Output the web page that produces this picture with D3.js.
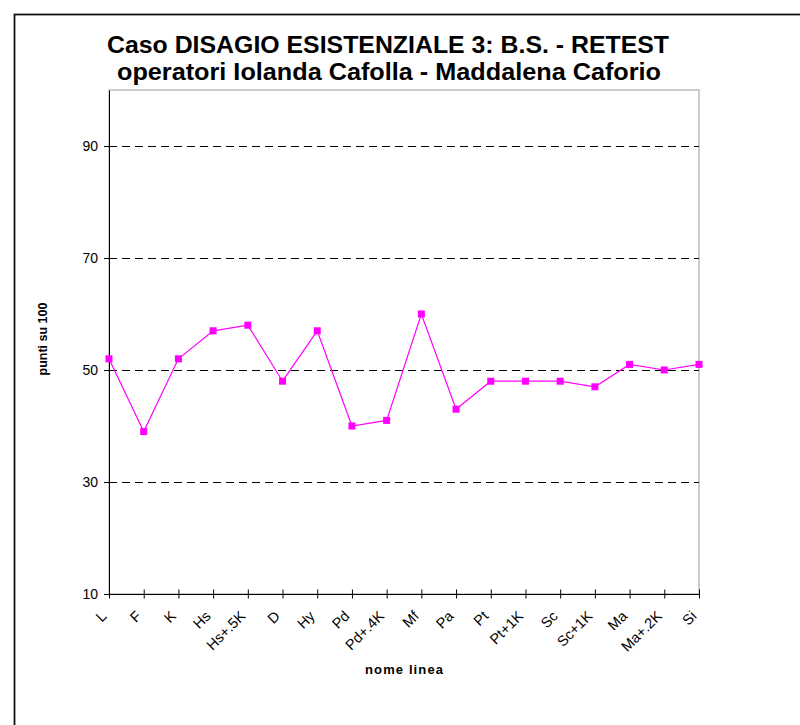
<!DOCTYPE html>
<html>
  <head>
    <meta charset="UTF-8" />
    <title>Caso DISAGIO ESISTENZIALE 3</title>
    <script src="https://d3js.org/d3.v7.min.js"></script>
    <style>
      body { margin: 0; background: #fff; }
      svg { display: block; font-family: "Liberation Sans", Arial, sans-serif; }
    </style>
  </head>
  <body>
    <svg id="chart" width="800" height="725"></svg>
    <script>
      const categories = ["L", "F", "K", "Hs", "Hs+.5K", "D", "Hy", "Pd", "Pd+.4K",
        "Mf", "Pa", "Pt", "Pt+1K", "Sc", "Sc+1K", "Ma", "Ma+.2K", "Si"];
      const values = [52, 39, 52, 57, 58, 48, 57, 40, 41, 60, 43, 48, 48, 48, 47, 51, 50, 51];
      const yTicks = [10, 30, 50, 70, 90];

      const svg = d3.select("#chart");
      const m = { left: 109, right: 699, top: 90, bottom: 594 };
      const font = "Liberation Sans, Arial, sans-serif";

      // outer frame (runs off the right and bottom edges)
      svg.append("rect")
        .attr("x", 14.5).attr("y", 14.5)
        .attr("width", 800).attr("height", 800)
        .attr("fill", "none").attr("stroke", "#111").attr("stroke-width", 1.8);

      const x = d3.scalePoint().domain(categories).range([m.left, m.right]);
      const y = d3.scaleLinear().domain([10, 100]).range([m.bottom, m.top]);

      // plot area frame
      svg.append("rect")
        .attr("x", m.left).attr("y", m.top)
        .attr("width", m.right - m.left).attr("height", m.bottom - m.top)
        .attr("fill", "none").attr("stroke", "#999").attr("stroke-width", 1);

      // gridlines
      svg.append("g")
        .attr("shape-rendering", "crispEdges")
        .selectAll("line")
        .data(yTicks.filter((d) => d > 10))
        .join("line")
        .attr("x1", m.left).attr("x2", m.right)
        .attr("y1", (d) => y(d) + 0.5).attr("y2", (d) => y(d) + 0.5)
        .attr("stroke", "#000").attr("stroke-dasharray", "8,5");

      const yAxis = svg.append("g")
        .attr("transform", `translate(${m.left},0)`)
        .call(d3.axisLeft(y).tickValues(yTicks).tickSize(5).tickSizeOuter(0).tickPadding(6));
      yAxis.select(".domain").attr("stroke", "#000");
      yAxis.selectAll(".tick line").attr("x1", 4).attr("x2", -5).attr("stroke", "#000");
      yAxis.selectAll("text").attr("font-size", 14).attr("fill", "#000")
        .attr("font-family", font);

      const xAxis = svg.append("g")
        .attr("transform", `translate(0,${m.bottom})`)
        .call(d3.axisBottom(x).tickSize(5).tickSizeOuter(0));
      xAxis.select(".domain").attr("stroke", "#000");
      xAxis.selectAll(".tick line").attr("y1", -4.5).attr("y2", 4.5).attr("stroke", "#000");
      xAxis.selectAll("text")
        .attr("font-size", 14.5).attr("fill", "#000")
        .attr("font-family", font)
        .attr("text-anchor", "end")
        .attr("dy", null)
        .attr("transform", "translate(-2,23) rotate(-45)")
        .attr("y", 0).attr("x", 0);

      // series
      const line = d3.line().x((d, i) => x(categories[i])).y((d) => y(d));
      svg.append("path")
        .datum(values)
        .attr("d", line)
        .attr("fill", "none").attr("stroke", "#ff00ff").attr("stroke-width", 1.2);

      svg.append("g")
        .selectAll("rect")
        .data(values)
        .join("rect")
        .attr("x", (d, i) => x(categories[i]) - 3.5)
        .attr("y", (d) => y(d) - 3.5)
        .attr("width", 7).attr("height", 7)
        .attr("fill", "#ff00ff");

      // titles
      svg.append("text")
        .attr("x", 107).attr("y", 53)
        .attr("font-size", 23).attr("font-weight", "bold")
        .attr("textLength", 562).attr("lengthAdjust", "spacingAndGlyphs")
        .text("Caso DISAGIO ESISTENZIALE 3: B.S. - RETEST");
      svg.append("text")
        .attr("x", 117).attr("y", 80)
        .attr("font-size", 23).attr("font-weight", "bold")
        .attr("textLength", 544).attr("lengthAdjust", "spacingAndGlyphs")
        .text("operatori Iolanda Cafolla - Maddalena Caforio");

      svg.append("text")
        .attr("x", 365).attr("y", 674)
        .attr("font-size", 13).attr("font-weight", "bold")
        .attr("textLength", 78).attr("lengthAdjust", "spacing")
        .text("nome linea");

      svg.append("text")
        .attr("transform", "translate(47,339) rotate(-90)")
        .attr("text-anchor", "middle")
        .attr("font-size", 12.5).attr("font-weight", "bold")
        .text("punti su 100");
    </script>
  </body>
</html>
